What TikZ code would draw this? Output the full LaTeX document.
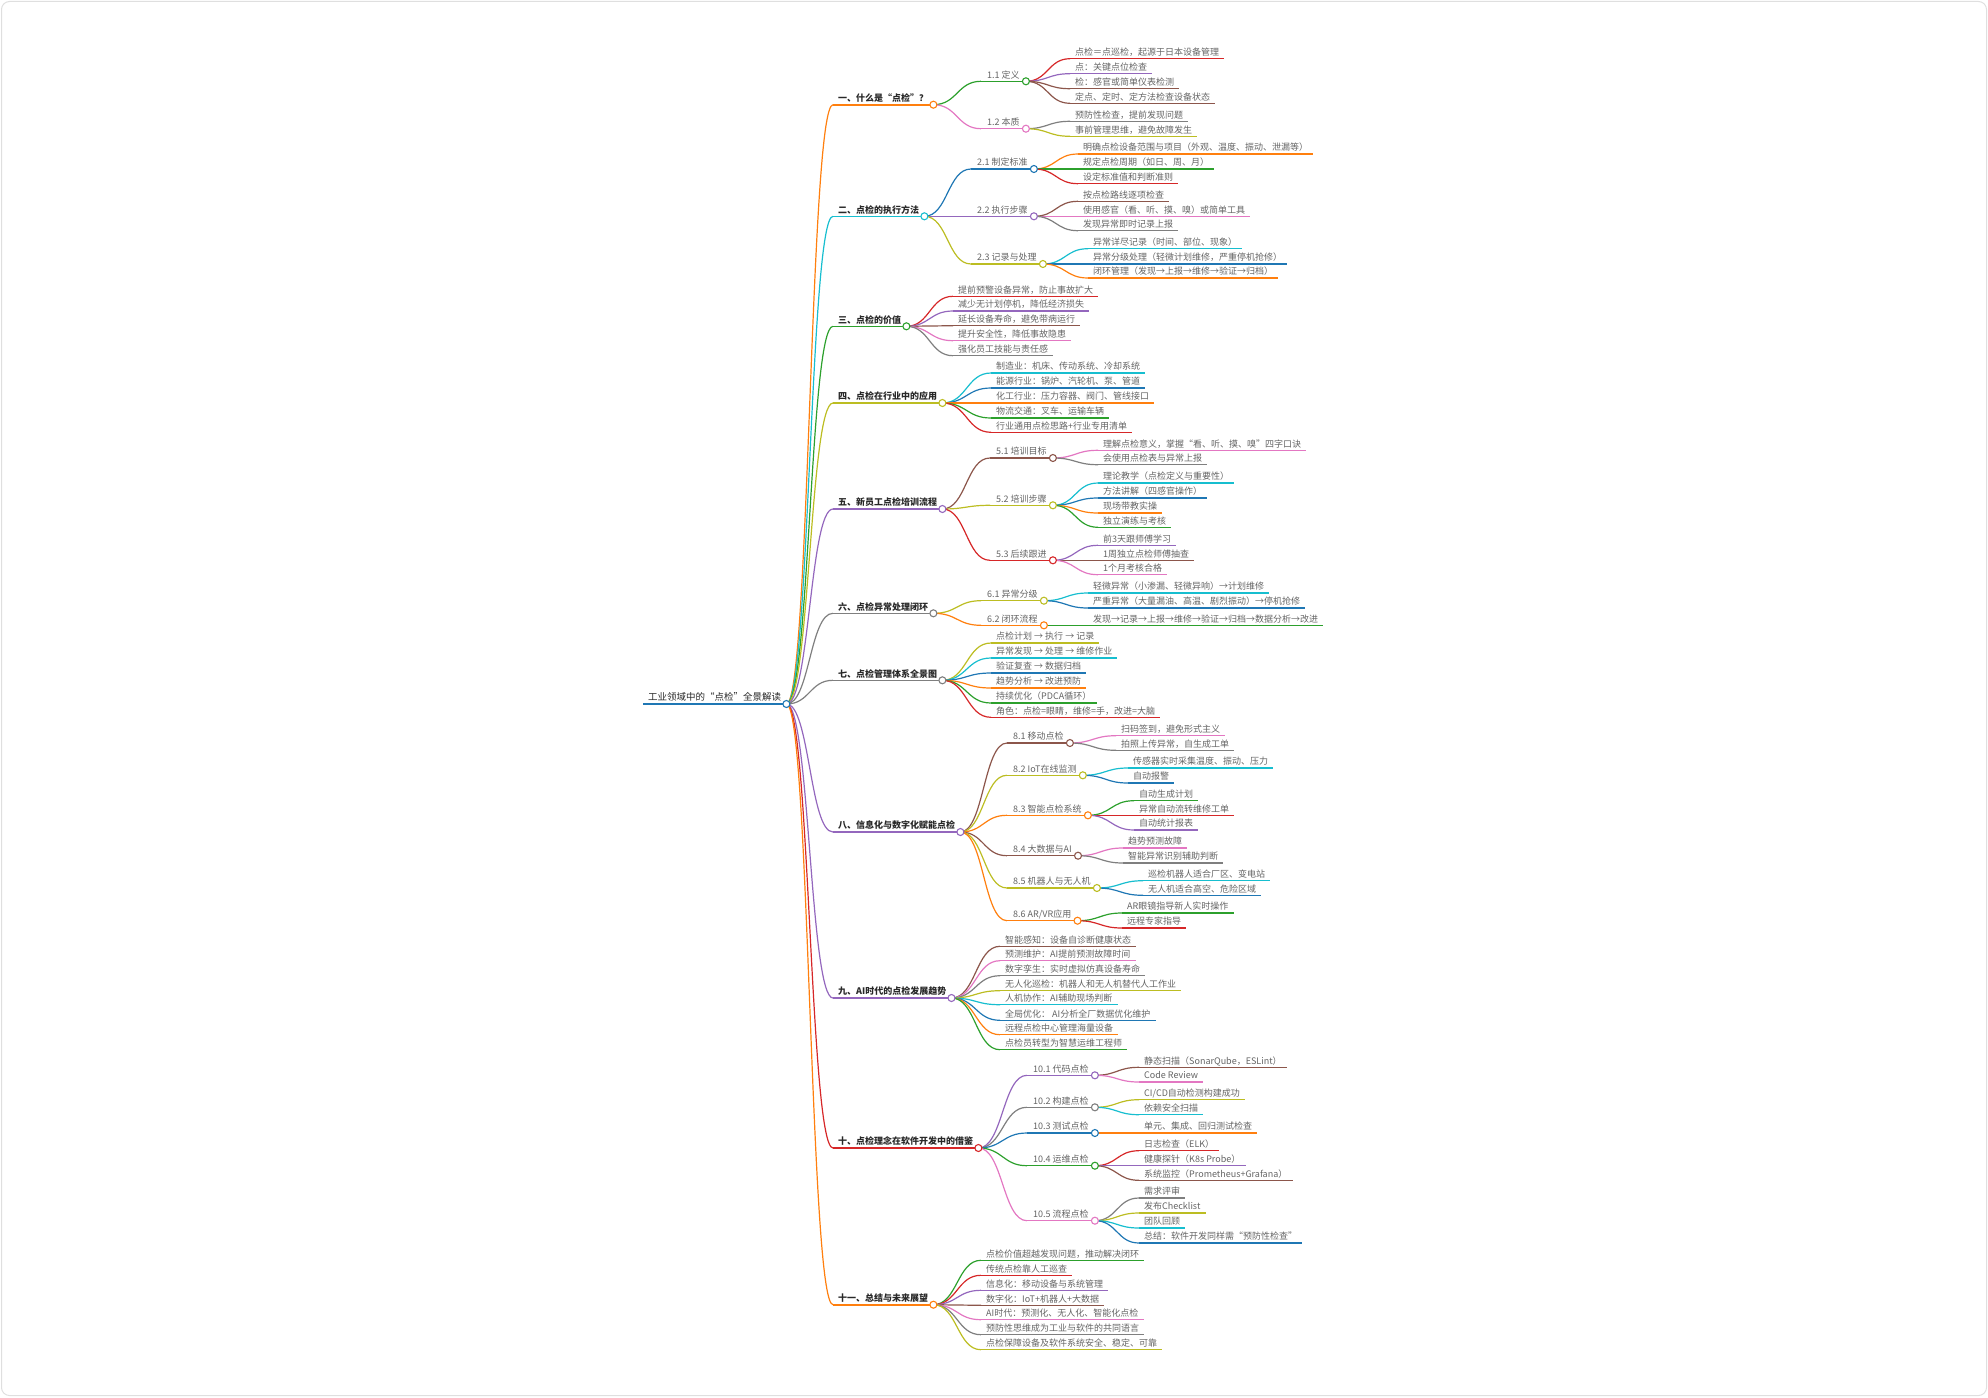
\documentclass[tikz,border=0pt]{standalone}
\usepackage{fontspec}
\setmainfont{Noto Sans CJK SC}
\usetikzlibrary{calc}
\definecolor{cblue}{RGB}{31,119,180}
\definecolor{corange}{RGB}{255,127,14}
\definecolor{cgreen}{RGB}{44,160,44}
\definecolor{cred}{RGB}{214,39,40}
\definecolor{cpurple}{RGB}{148,103,189}
\definecolor{cbrown}{RGB}{140,86,75}
\definecolor{cpink}{RGB}{227,119,194}
\definecolor{cgray}{RGB}{127,127,127}
\definecolor{colive}{RGB}{188,189,34}
\definecolor{ccyan}{RGB}{23,190,207}
\definecolor{txtgray}{RGB}{100,100,100}
\definecolor{txtdark}{RGB}{40,40,40}

\begin{document}
\begin{tikzpicture}[
    x=1pt, y=-1pt,
    font=\fontsize{9}{11}\selectfont,
    % Styles definition
    base/.style={anchor=south west, inner xsep=5pt, inner ysep=2pt, text height=7pt, text depth=1pt},
    rootnode/.style={base, font=\fontsize{9.5}{11}\selectfont, text=txtdark,
        append after command={(\tikzlastnode.south west) edge[draw=cblue, line width=2.2pt] (\tikzlastnode.south east)}},
    topic/.style={base, font=\fontsize{9}{11}\selectfont\bfseries, text=txtdark,
        append after command={(\tikzlastnode.south west) edge[draw=#1, line width=1.6pt] (\tikzlastnode.south east)}},
    sub/.style={base, inner xsep=6pt, text=txtgray,
        append after command={(\tikzlastnode.south west) edge[draw=#1, line width=1.3pt] (\tikzlastnode.south east)}},
    leaf/.style={base, text=txtgray,
        append after command={(\tikzlastnode.south west) edge[draw=#1, line width=1.2pt] (\tikzlastnode.south east)}},
    knob/.style={circle, draw=#1, fill=white, line width=1.1pt, minimum size=7pt, inner sep=0pt},
    link/.style={draw=#1, line width=1.2pt,
        to path={let \p1=(\tikztostart), \p2=(\tikztotarget) in .. controls ({(\x1+\x2)/2},\y1) and ({(\x1+\x2)/2},\y2) .. (\p2)}}
]
\useasboundingbox (0,0) rectangle (1988,1397);
\draw[gray!25, line width=1pt, rounded corners=8pt] (1.5,1.5) rectangle (1986.5,1395.5);

% Root
\node[rootnode] (root) at (643,704) {工业领域中的“点检”全景解读};

% Main topics
\node[topic=corange] (t1) at (833,104.7) {一、什么是“点检”？};
\node[topic=ccyan] (t2) at (833,216.3) {二、点检的执行方法};
\node[topic=cgreen] (t3) at (833,326.3) {三、点检的价值};
\node[topic=colive] (t4) at (833,403) {四、点检在行业中的应用};
\node[topic=cpurple] (t5) at (833,509) {五、新员工点检培训流程};
\node[topic=cgray] (t6) at (833,613.3) {六、点检异常处理闭环};
\node[topic=cgray] (t7) at (833,680.3) {七、点检管理体系全景图};
\node[topic=cpurple] (t8) at (833,832) {八、信息化与数字化赋能点检};
\node[topic=cpurple] (t9) at (833,998) {九、AI时代的点检发展趋势};
\node[topic=cred] (t10) at (833,1148) {十、点检理念在软件开发中的借鉴};
\node[topic=corange] (t11) at (833,1304.7) {十一、总结与未来展望};

\draw[link=corange] (root.south east) to (t1.south west);
\draw[link=ccyan] (root.south east) to (t2.south west);
\draw[link=cgreen] (root.south east) to (t3.south west);
\draw[link=colive] (root.south east) to (t4.south west);
\draw[link=cpurple] (root.south east) to (t5.south west);
\draw[link=cgray] (root.south east) to (t6.south west);
\draw[link=cgray] (root.south east) to (t7.south west);
\draw[link=cpurple] (root.south east) to (t8.south west);
\draw[link=cpurple] (root.south east) to (t9.south west);
\draw[link=cred] (root.south east) to (t10.south west);
\draw[link=corange] (root.south east) to (t11.south west);

% 1. 什么是点检
\node[sub=cgreen] (s11) at (981,81.3) {1.1 定义};
\node[sub=cpink] (s12) at (981,128.7) {1.2 本质};
\node[leaf=cred] (l11a) at (1070,58.7) {点检＝点巡检，起源于日本设备管理};
\node[leaf=cpurple] (l11b) at (1070,73.7) {点：关键点位检查};
\node[leaf=cbrown] (l11c) at (1070,88.7) {检：感官或简单仪表检测};
\node[leaf=cbrown] (l11d) at (1070,103.3) {定点、定时、定方法检查设备状态};
\node[leaf=cgray] (l12a) at (1070,121.3) {预防性检查，提前发现问题};
\node[leaf=colive] (l12b) at (1070,136.3) {事前管理思维，避免故障发生};
\draw[link=cgreen] (t1.south east) to (s11.south west);
\draw[link=cpink] (t1.south east) to (s12.south west);
\draw[link=cred] (s11.south east) to (l11a.south west);
\draw[link=cpurple] (s11.south east) to (l11b.south west);
\draw[link=cbrown] (s11.south east) to (l11c.south west);
\draw[link=cbrown] (s11.south east) to (l11d.south west);
\draw[link=cgray] (s12.south east) to (l12a.south west);
\draw[link=colive] (s12.south east) to (l12b.south west);

% 2. 执行方法
\node[sub=cblue] (s21) at (971,169) {2.1 制定标准};
\node[sub=cpurple] (s22) at (971,216.3) {2.2 执行步骤};
\node[sub=colive] (s23) at (971,264) {2.3 记录与处理};
\node[leaf=corange] (l21a) at (1078,154) {明确点检设备范围与项目（外观、温度、振动、泄漏等）};
\node[leaf=cgreen] (l21b) at (1078,169) {规定点检周期（如日、周、月）};
\node[leaf=cred] (l21c) at (1078,183.7) {设定标准值和判断准则};
\node[leaf=cbrown] (l22a) at (1078,201.3) {按点检路线逐项检查};
\node[leaf=cpink] (l22b) at (1078,216.3) {使用感官（看、听、摸、嗅）或简单工具};
\node[leaf=cgray] (l22c) at (1078,230.7) {发现异常即时记录上报};
\node[leaf=ccyan] (l23a) at (1088,248.7) {异常详尽记录（时间、部位、现象）};
\node[leaf=cblue] (l23b) at (1088,264) {异常分级处理（轻微计划维修，严重停机抢修）};
\node[leaf=corange] (l23c) at (1088,278) {闭环管理（发现→上报→维修→验证→归档）};
\draw[link=cblue] (t2.south east) to (s21.south west);
\draw[link=cpurple] (t2.south east) to (s22.south west);
\draw[link=colive] (t2.south east) to (s23.south west);
\draw[link=corange] (s21.south east) to (l21a.south west);
\draw[link=cgreen] (s21.south east) to (l21b.south west);
\draw[link=cred] (s21.south east) to (l21c.south west);
\draw[link=cbrown] (s22.south east) to (l22a.south west);
\draw[link=cpink] (s22.south east) to (l22b.south west);
\draw[link=cgray] (s22.south east) to (l22c.south west);
\draw[link=ccyan] (s23.south east) to (l23a.south west);
\draw[link=cblue] (s23.south east) to (l23b.south west);
\draw[link=corange] (s23.south east) to (l23c.south west);

% 3. 价值
\node[leaf=cred] (l3a) at (953,296.3) {提前预警设备异常，防止事故扩大};
\node[leaf=cpurple] (l3b) at (953,311) {减少无计划停机，降低经济损失};
\node[leaf=cbrown] (l3c) at (953,325.7) {延长设备寿命，避免带病运行};
\node[leaf=cpink] (l3d) at (953,340.7) {提升安全性，降低事故隐患};
\node[leaf=cgray] (l3e) at (953,355.7) {强化员工技能与责任感};
\draw[link=cred] (t3.south east) to (l3a.south west);
\draw[link=cpurple] (t3.south east) to (l3b.south west);
\draw[link=cbrown] (t3.south east) to (l3c.south west);
\draw[link=cpink] (t3.south east) to (l3d.south west);
\draw[link=cgray] (t3.south east) to (l3e.south west);

% 4. 行业应用
\node[leaf=ccyan] (l4a) at (991,373) {制造业：机床、传动系统、冷却系统};
\node[leaf=cblue] (l4b) at (991,388) {能源行业：锅炉、汽轮机、泵、管道};
\node[leaf=corange] (l4c) at (991,403) {化工行业：压力容器、阀门、管线接口};
\node[leaf=cgreen] (l4d) at (991,418) {物流交通：叉车、运输车辆};
\node[leaf=cred] (l4e) at (991,432.3) {行业通用点检思路+行业专用清单};
\draw[link=ccyan] (t4.south east) to (l4a.south west);
\draw[link=cblue] (t4.south east) to (l4b.south west);
\draw[link=corange] (t4.south east) to (l4c.south west);
\draw[link=cgreen] (t4.south east) to (l4d.south west);
\draw[link=cred] (t4.south east) to (l4e.south west);

% 5. 培训流程
\node[sub=cbrown] (s51) at (990,458) {5.1 培训目标};
\node[sub=colive] (s52) at (990,505.3) {5.2 培训步骤};
\node[sub=cred] (s53) at (990,560.3) {5.3 后续跟进};
\node[leaf=cpink] (l51a) at (1098,450.3) {理解点检意义，掌握“看、听、摸、嗅”四字口诀};
\node[leaf=cgray] (l51b) at (1098,464.7) {会使用点检表与异常上报};
\node[leaf=ccyan] (l52a) at (1098,483) {理论教学（点检定义与重要性）};
\node[leaf=cblue] (l52b) at (1098,498) {方法讲解（四感官操作）};
\node[leaf=corange] (l52c) at (1098,513) {现场带教实操};
\node[leaf=cgreen] (l52d) at (1098,527.3) {独立演练与考核};
\node[leaf=cpurple] (l53a) at (1098,545.3) {前3天跟师傅学习};
\node[leaf=cbrown] (l53b) at (1098,560.3) {1周独立点检师傅抽查};
\node[leaf=cpink] (l53c) at (1098,574.7) {1个月考核合格};
\draw[link=cbrown] (t5.south east) to (s51.south west);
\draw[link=colive] (t5.south east) to (s52.south west);
\draw[link=cred] (t5.south east) to (s53.south west);
\draw[link=cpink] (s51.south east) to (l51a.south west);
\draw[link=cgray] (s51.south east) to (l51b.south west);
\draw[link=ccyan] (s52.south east) to (l52a.south west);
\draw[link=cblue] (s52.south east) to (l52b.south west);
\draw[link=corange] (s52.south east) to (l52c.south west);
\draw[link=cgreen] (s52.south east) to (l52d.south west);
\draw[link=cpurple] (s53.south east) to (l53a.south west);
\draw[link=cbrown] (s53.south east) to (l53b.south west);
\draw[link=cpink] (s53.south east) to (l53c.south west);

% 6. 异常处理闭环
\node[sub=colive] (s61) at (981,600.7) {6.1 异常分级};
\node[sub=corange] (s62) at (981,625.3) {6.2 闭环流程};
\node[leaf=ccyan] (l61a) at (1088,593) {轻微异常（小渗漏、轻微异响）→计划维修};
\node[leaf=cblue] (l61b) at (1088,608) {严重异常（大量漏油、高温、剧烈振动）→停机抢修};
\node[leaf=cgreen] (l62a) at (1088,625.3) {发现→记录→上报→维修→验证→归档→数据分析→改进};
\draw[link=colive] (t6.south east) to (s61.south west);
\draw[link=corange] (t6.south east) to (s62.south west);
\draw[link=ccyan] (s61.south east) to (l61a.south west);
\draw[link=cblue] (s61.south east) to (l61b.south west);
\draw[link=cgreen] (s62.south east) to (l62a.south west);

% 7. 管理体系全景图
\node[leaf=colive] (l7a) at (991,643) {点检计划 → 执行 → 记录};
\node[leaf=ccyan] (l7b) at (991,658) {异常发现 → 处理 → 维修作业};
\node[leaf=cblue] (l7c) at (991,673) {验证复查 → 数据归档};
\node[leaf=corange] (l7d) at (991,688) {趋势分析 → 改进预防};
\node[leaf=cgreen] (l7e) at (991,703) {持续优化（PDCA循环）};
\node[leaf=cred] (l7f) at (991,717.3) {角色：点检=眼睛，维修=手，改进=大脑};
\draw[link=colive] (t7.south east) to (l7a.south west);
\draw[link=ccyan] (t7.south east) to (l7b.south west);
\draw[link=cblue] (t7.south east) to (l7c.south west);
\draw[link=corange] (t7.south east) to (l7d.south west);
\draw[link=cgreen] (t7.south east) to (l7e.south west);
\draw[link=cred] (t7.south east) to (l7f.south west);

% 8. 信息化与数字化
\node[sub=cbrown] (s81) at (1007,743) {8.1 移动点检};
\node[sub=colive] (s82) at (1007,775.3) {8.2 IoT在线监测};
\node[sub=corange] (s83) at (1007,815.3) {8.3 智能点检系统};
\node[sub=cbrown] (s84) at (1007,855.7) {8.4 大数据与AI};
\node[sub=colive] (s85) at (1007,888) {8.5 机器人与无人机};
\node[sub=corange] (s86) at (1007,920.7) {8.6 AR/VR应用};
\node[leaf=cpink] (l81a) at (1116,735.7) {扫码签到，避免形式主义};
\node[leaf=cgray] (l81b) at (1116,750.3) {拍照上传异常，自生成工单};
\node[leaf=ccyan] (l82a) at (1128,768) {传感器实时采集温度、振动、压力};
\node[leaf=cblue] (l82b) at (1128,783) {自动报警};
\node[leaf=cgreen] (l83a) at (1134,800.7) {自动生成计划};
\node[leaf=cred] (l83b) at (1134,815.3) {异常自动流转维修工单};
\node[leaf=cpurple] (l83c) at (1134,830) {自动统计报表};
\node[leaf=cpink] (l84a) at (1123,848) {趋势预测故障};
\node[leaf=cgray] (l84b) at (1123,863) {智能异常识别辅助判断};
\node[leaf=ccyan] (l85a) at (1143,880.7) {巡检机器人适合厂区、变电站};
\node[leaf=cblue] (l85b) at (1143,895.3) {无人机适合高空、危险区域};
\node[leaf=cgreen] (l86a) at (1122,913) {AR眼镜指导新人实时操作};
\node[leaf=cred] (l86b) at (1122,928) {远程专家指导};
\draw[link=cbrown] (t8.south east) to (s81.south west);
\draw[link=colive] (t8.south east) to (s82.south west);
\draw[link=corange] (t8.south east) to (s83.south west);
\draw[link=cbrown] (t8.south east) to (s84.south west);
\draw[link=colive] (t8.south east) to (s85.south west);
\draw[link=corange] (t8.south east) to (s86.south west);
\draw[link=cpink] (s81.south east) to (l81a.south west);
\draw[link=cgray] (s81.south east) to (l81b.south west);
\draw[link=ccyan] (s82.south east) to (l82a.south west);
\draw[link=cblue] (s82.south east) to (l82b.south west);
\draw[link=cgreen] (s83.south east) to (l83a.south west);
\draw[link=cred] (s83.south east) to (l83b.south west);
\draw[link=cpurple] (s83.south east) to (l83c.south west);
\draw[link=cpink] (s84.south east) to (l84a.south west);
\draw[link=cgray] (s84.south east) to (l84b.south west);
\draw[link=ccyan] (s85.south east) to (l85a.south west);
\draw[link=cblue] (s85.south east) to (l85b.south west);
\draw[link=cgreen] (s86.south east) to (l86a.south west);
\draw[link=cred] (s86.south east) to (l86b.south west);

% 9. AI时代趋势
\node[leaf=cbrown] (l9a) at (1000,946.3) {智能感知：设备自诊断健康状态};
\node[leaf=cpink] (l9b) at (1000,960.7) {预测维护：AI提前预测故障时间};
\node[leaf=cgray] (l9c) at (1000,975.7) {数字孪生：实时虚拟仿真设备寿命};
\node[leaf=colive] (l9d) at (1000,990.7) {无人化巡检：机器人和无人机替代人工作业};
\node[leaf=ccyan] (l9e) at (1000,1004.7) {人机协作：AI辅助现场判断};
\node[leaf=cblue] (l9f) at (1000,1020.3) {全局优化： AI分析全厂数据优化维护};
\node[leaf=corange] (l9g) at (1000,1034.7) {远程点检中心管理海量设备};
\node[leaf=cgreen] (l9h) at (1000,1049.7) {点检员转型为智慧运维工程师};
\draw[link=cbrown] (t9.south east) to (l9a.south west);
\draw[link=cpink] (t9.south east) to (l9b.south west);
\draw[link=cgray] (t9.south east) to (l9c.south west);
\draw[link=colive] (t9.south east) to (l9d.south west);
\draw[link=ccyan] (t9.south east) to (l9e.south west);
\draw[link=cblue] (t9.south east) to (l9f.south west);
\draw[link=corange] (t9.south east) to (l9g.south west);
\draw[link=cgreen] (t9.south east) to (l9h.south west);

% 10. 软件开发借鉴
\node[sub=cpurple] (s101) at (1027,1075.3) {10.1 代码点检};
\node[sub=cgray] (s102) at (1027,1107.3) {10.2 构建点检};
\node[sub=cblue] (s103) at (1027,1133) {10.3 测试点检};
\node[sub=cgreen] (s104) at (1027,1165.7) {10.4 运维点检};
\node[sub=cpink] (s105) at (1027,1220.7) {10.5 流程点检};
\node[leaf=cbrown] (l101a) at (1139,1067.3) {静态扫描（SonarQube，ESLint）};
\node[leaf=cpink] (l101b) at (1139,1082) {Code Review};
\node[leaf=colive] (l102a) at (1139,1099.7) {CI/CD自动检测构建成功};
\node[leaf=ccyan] (l102b) at (1139,1114.7) {依赖安全扫描};
\node[leaf=corange] (l103a) at (1139,1133) {单元、集成、回归测试检查};
\node[leaf=cred] (l104a) at (1139,1150.7) {日志检查（ELK）};
\node[leaf=cpurple] (l104b) at (1139,1165.7) {健康探针（K8s Probe）};
\node[leaf=cbrown] (l104c) at (1139,1180.3) {系统监控（Prometheus+Grafana）};
\node[leaf=cgray] (l105a) at (1139,1198) {需求评审};
\node[leaf=colive] (l105b) at (1139,1213) {发布Checklist};
\node[leaf=ccyan] (l105c) at (1139,1228) {团队回顾};
\node[leaf=cblue] (l105d) at (1139,1243) {总结：软件开发同样需“预防性检查”};
\draw[link=cpurple] (t10.south east) to (s101.south west);
\draw[link=cgray] (t10.south east) to (s102.south west);
\draw[link=cblue] (t10.south east) to (s103.south west);
\draw[link=cgreen] (t10.south east) to (s104.south west);
\draw[link=cpink] (t10.south east) to (s105.south west);
\draw[link=cbrown] (s101.south east) to (l101a.south west);
\draw[link=cpink] (s101.south east) to (l101b.south west);
\draw[link=colive] (s102.south east) to (l102a.south west);
\draw[link=ccyan] (s102.south east) to (l102b.south west);
\draw[link=corange] (s103.south east) to (l103a.south west);
\draw[link=cred] (s104.south east) to (l104a.south west);
\draw[link=cpurple] (s104.south east) to (l104b.south west);
\draw[link=cbrown] (s104.south east) to (l104c.south west);
\draw[link=cgray] (s105.south east) to (l105a.south west);
\draw[link=colive] (s105.south east) to (l105b.south west);
\draw[link=ccyan] (s105.south east) to (l105c.south west);
\draw[link=cblue] (s105.south east) to (l105d.south west);

% 11. 总结与展望
\node[leaf=cgreen] (l11xa) at (981,1260.3) {点检价值超越发现问题，推动解决闭环};
\node[leaf=cred] (l11xb) at (981,1275.3) {传统点检靠人工巡查};
\node[leaf=cpurple] (l11xc) at (981,1290.3) {信息化：移动设备与系统管理};
\node[leaf=cbrown] (l11xd) at (981,1305.3) {数字化：IoT+机器人+大数据};
\node[leaf=cpink] (l11xe) at (981,1319.7) {AI时代：预测化、无人化、智能化点检};
\node[leaf=cgray] (l11xf) at (981,1334.7) {预防性思维成为工业与软件的共同语言};
\node[leaf=colive] (l11xg) at (981,1349.7) {点检保障设备及软件系统安全、稳定、可靠};
\draw[link=cgreen] (t11.south east) to (l11xa.south west);
\draw[link=cred] (t11.south east) to (l11xb.south west);
\draw[link=cpurple] (t11.south east) to (l11xc.south west);
\draw[link=cbrown] (t11.south east) to (l11xd.south west);
\draw[link=cpink] (t11.south east) to (l11xe.south west);
\draw[link=cgray] (t11.south east) to (l11xf.south west);
\draw[link=colive] (t11.south east) to (l11xg.south west);

% --- Knobs on top ---
\node[knob=cblue] (k0) at (root.south east) {};
\node[knob=corange] (k1) at (t1.south east) {};
\node[knob=ccyan] (k2) at (t2.south east) {};
\node[knob=cgreen] (k3) at (t3.south east) {};
\node[knob=colive] (k4) at (t4.south east) {};
\node[knob=cpurple] (k5) at (t5.south east) {};
\node[knob=cgray] (k6) at (t6.south east) {};
\node[knob=cgray] (k7) at (t7.south east) {};
\node[knob=cpurple] (k8) at (t8.south east) {};
\node[knob=cpurple] (k9) at (t9.south east) {};
\node[knob=cred] (k10) at (t10.south east) {};
\node[knob=corange] (k11) at (t11.south east) {};
\node[knob=cgreen] (k11s) at (s11.south east) {};
\node[knob=cpink] (k12s) at (s12.south east) {};
\node[knob=cblue] (k21s) at (s21.south east) {};
\node[knob=cpurple] (k22s) at (s22.south east) {};
\node[knob=colive] (k23s) at (s23.south east) {};
\node[knob=cbrown] (k51s) at (s51.south east) {};
\node[knob=colive] (k52s) at (s52.south east) {};
\node[knob=cred] (k53s) at (s53.south east) {};
\node[knob=colive] (k61s) at (s61.south east) {};
\node[knob=corange] (k62s) at (s62.south east) {};
\node[knob=cbrown] (k81s) at (s81.south east) {};
\node[knob=colive] (k82s) at (s82.south east) {};
\node[knob=corange] (k83s) at (s83.south east) {};
\node[knob=cbrown] (k84s) at (s84.south east) {};
\node[knob=colive] (k85s) at (s85.south east) {};
\node[knob=corange] (k86s) at (s86.south east) {};
\node[knob=cpurple] (k101s) at (s101.south east) {};
\node[knob=cgray] (k102s) at (s102.south east) {};
\node[knob=cblue] (k103s) at (s103.south east) {};
\node[knob=cgreen] (k104s) at (s104.south east) {};
\node[knob=cpink] (k105s) at (s105.south east) {};

\end{tikzpicture}
\end{document}
